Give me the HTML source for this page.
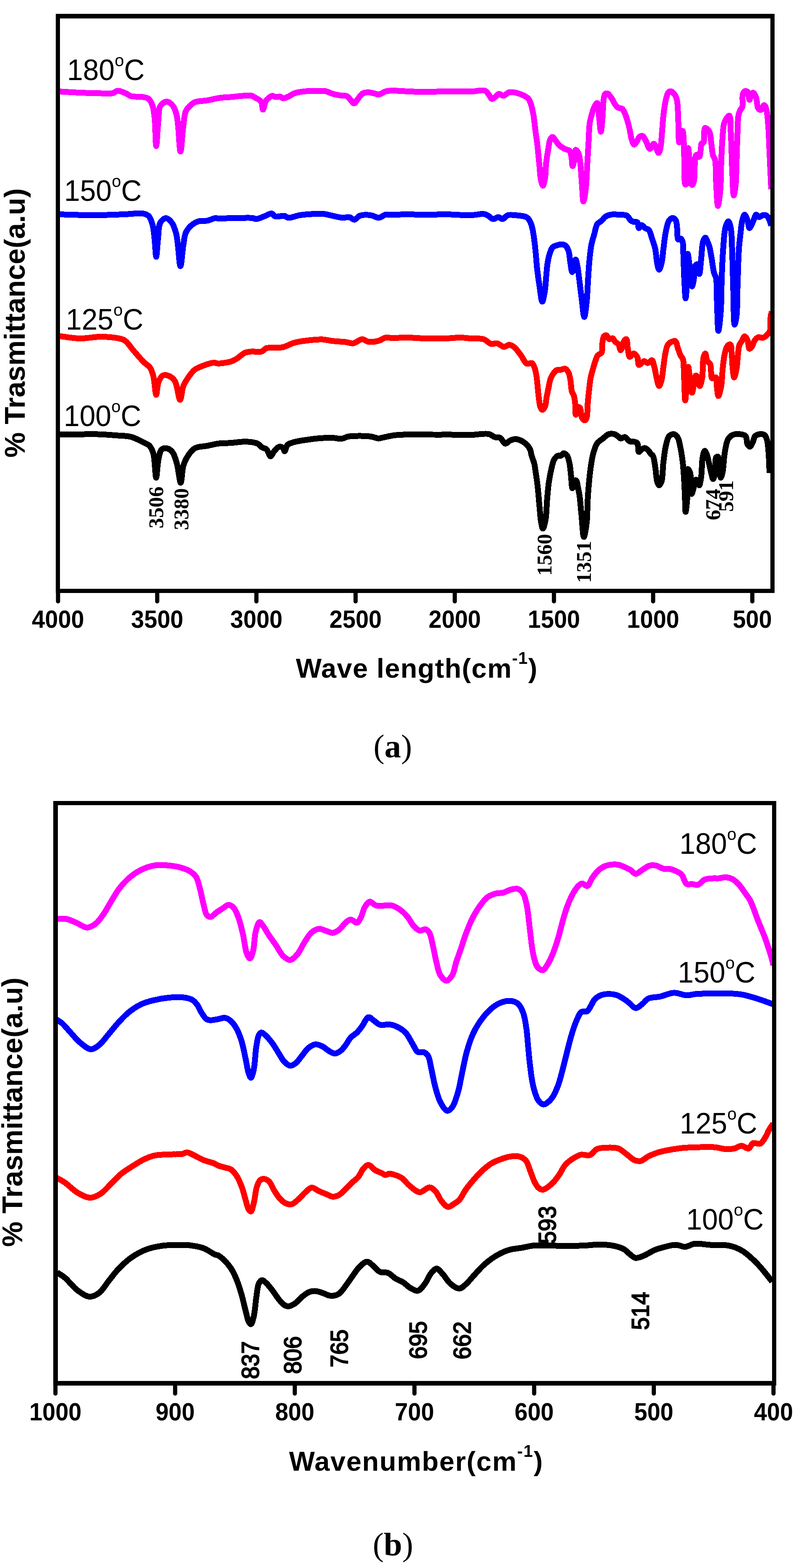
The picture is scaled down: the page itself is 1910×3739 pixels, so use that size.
<!DOCTYPE html>
<html><head><meta charset="utf-8"><title>FTIR spectra</title>
<style>html,body{margin:0;padding:0;background:#fff;}svg{display:block;}</style></head><body>
<svg width="1910" height="3739" viewBox="0 0 1910 3739">
<rect x="0" y="0" width="1910" height="3739" fill="#fff"/>
<g id="curves-a">
<path d="M137.6,218.0 C155.3,219.0 172.5,220.2 190.8,221.0 C210.4,221.8 237.3,222.6 251.6,222.6 C259.4,222.6 264.7,223.3 269.8,222.0 C274.0,220.9 276.3,216.9 280.5,216.5 C286.0,216.0 294.5,220.2 300.2,222.6 C304.9,224.6 307.2,227.7 312.4,229.2 C320.1,231.5 335.0,230.0 342.8,231.7 C347.8,232.8 351.6,233.3 354.9,236.2 C359.0,239.7 361.8,246.5 364.0,253.0 C366.7,260.8 367.3,269.1 368.6,280.3 C370.6,297.9 370.9,348.5 372.5,348.5 C374.0,348.5 375.8,303.9 377.7,286.4 C379.1,273.5 377.7,260.5 382.3,253.0 C385.7,247.4 392.4,242.3 397.5,242.3 C402.6,242.3 408.8,247.9 412.7,253.0 C417.3,259.0 419.3,266.5 421.8,277.3 C426.3,296.7 427.6,361.5 430.3,361.5 C432.6,361.5 434.6,319.1 437.0,301.6 C438.9,287.9 439.3,273.7 443.0,265.1 C445.4,259.6 448.6,256.6 452.2,253.0 C455.8,249.4 459.0,246.0 464.3,243.8 C471.9,240.6 484.6,241.1 494.7,239.3 C504.9,237.5 515.4,234.5 525.1,233.2 C533.9,232.0 541.6,232.1 550.4,231.4 C560.1,230.6 571.8,228.8 580.8,228.4 C588.1,228.0 595.1,227.0 600.5,228.4 C604.8,229.5 608.1,232.9 611.2,234.5 C613.5,235.7 615.4,236.1 617.3,237.5 C619.4,239.1 621.8,240.7 623.3,243.6 C625.5,247.8 625.3,261.4 627.0,261.5 C628.8,261.6 630.9,245.5 634.0,240.5 C636.2,237.0 638.9,235.1 641.6,233.0 C644.0,231.1 646.6,228.6 649.2,228.4 C651.7,228.2 653.9,231.0 656.8,231.4 C660.3,231.9 665.7,229.7 668.9,230.5 C671.4,231.1 672.5,234.2 675.0,234.5 C678.3,234.9 683.0,232.3 687.2,230.5 C692.1,228.4 696.6,224.4 702.4,222.3 C709.4,219.8 718.6,218.7 726.7,217.8 C734.8,216.9 742.9,217.2 751.0,217.1 C759.1,217.0 767.9,215.8 775.3,217.1 C781.9,218.3 787.4,222.1 793.6,223.8 C799.6,225.5 806.0,226.6 811.8,227.5 C817.1,228.3 822.9,227.3 827.0,229.3 C830.8,231.1 833.2,235.4 836.1,238.4 C838.8,241.2 841.1,246.6 843.7,246.6 C846.2,246.6 848.6,242.1 851.3,239.0 C855.0,234.9 858.9,226.9 863.5,223.8 C867.2,221.3 871.3,220.5 875.6,220.2 C880.3,219.8 886.0,221.4 890.8,222.3 C895.1,223.1 898.7,225.7 903.0,225.3 C908.3,224.8 914.5,219.3 920.0,217.8 C924.9,216.5 928.4,216.4 934.3,216.2 C943.7,215.9 958.0,217.3 970.8,217.8 C985.2,218.4 1001.2,219.3 1016.4,219.3 C1031.6,219.3 1045.7,218.0 1062.0,217.8 C1080.8,217.6 1105.6,218.9 1122.8,218.4 C1135.6,218.0 1148.9,213.5 1156.2,216.2 C1160.7,217.9 1162.5,222.0 1165.3,225.3 C1168.1,228.6 1169.9,235.4 1172.9,236.0 C1175.6,236.6 1179.2,232.6 1182.0,230.5 C1184.7,228.5 1186.7,224.3 1189.6,223.8 C1192.7,223.3 1196.6,228.6 1200.3,228.4 C1204.7,228.1 1209.1,221.4 1214.0,220.2 C1218.7,219.0 1224.4,220.0 1229.1,220.8 C1233.3,221.5 1237.1,223.1 1240.9,224.5 C1244.6,225.9 1248.4,227.4 1251.7,229.3 C1254.7,231.1 1257.7,232.7 1259.9,235.3 C1262.3,238.2 1263.8,242.3 1265.3,246.2 C1266.9,250.4 1268.0,255.0 1269.1,259.8 C1270.3,265.0 1271.4,270.3 1272.4,276.1 C1273.5,282.8 1274.2,290.6 1275.1,297.8 C1276.0,305.1 1276.9,312.5 1277.8,319.6 C1278.7,326.5 1279.7,331.6 1280.7,340.0 C1282.4,353.7 1284.6,377.9 1286.2,393.8 C1287.5,406.5 1287.7,419.0 1289.6,428.0 C1290.9,434.0 1293.0,442.8 1294.6,442.8 C1296.4,442.7 1298.6,430.8 1299.9,423.4 C1301.5,413.7 1301.0,400.2 1302.2,389.2 C1303.3,379.0 1305.1,369.0 1306.7,359.6 C1308.2,350.9 1308.8,340.4 1311.3,334.5 C1312.8,330.9 1314.8,326.6 1317.0,326.5 C1319.6,326.4 1323.3,333.4 1326.1,336.8 C1328.6,339.9 1330.0,343.1 1333.0,345.9 C1336.6,349.3 1342.1,352.6 1346.6,355.0 C1350.5,357.0 1355.3,356.8 1358.0,359.6 C1360.9,362.6 1361.4,368.0 1362.6,373.2 C1364.1,379.8 1363.9,395.9 1365.3,396.0 C1366.4,396.1 1368.3,387.7 1369.4,382.4 C1370.9,375.4 1370.3,358.0 1372.8,357.3 C1374.5,356.9 1377.9,362.3 1379.7,366.4 C1382.5,372.9 1383.0,383.5 1384.2,393.8 C1385.8,407.0 1386.4,424.5 1387.6,439.3 C1388.7,453.4 1389.4,480.3 1391.1,480.4 C1392.6,480.5 1395.4,462.2 1396.8,450.7 C1398.8,434.8 1399.1,412.8 1400.2,393.8 C1401.3,374.8 1402.6,354.3 1403.6,336.8 C1404.5,322.0 1404.4,307.0 1405.9,295.7 C1407.0,287.6 1408.5,282.0 1410.4,275.2 C1412.3,268.3 1414.5,260.0 1417.3,254.7 C1419.3,250.9 1422.3,245.1 1424.1,245.6 C1427.2,246.4 1427.2,268.4 1428.7,279.8 C1430.1,291.2 1431.5,314.0 1432.8,314.0 C1434.1,314.0 1435.7,291.6 1436.7,279.8 C1437.8,267.3 1437.5,251.1 1438.9,241.0 C1439.8,234.5 1440.0,227.9 1442.4,225.1 C1443.8,223.4 1446.1,222.3 1448.1,222.8 C1451.3,223.5 1455.2,229.9 1458.3,234.2 C1461.7,238.9 1464.3,246.0 1467.4,250.1 C1469.7,253.1 1471.6,255.5 1474.3,257.0 C1476.9,258.5 1480.9,257.4 1483.4,259.3 C1486.4,261.5 1488.1,266.2 1490.2,270.7 C1492.8,276.4 1495.2,284.5 1497.1,291.2 C1498.9,297.4 1500.2,303.0 1501.6,309.4 C1503.2,316.6 1504.1,325.8 1506.2,332.2 C1507.8,337.1 1509.6,344.4 1511.9,344.7 C1513.9,345.0 1516.7,339.7 1518.7,336.8 C1520.9,333.7 1521.8,328.6 1524.4,326.5 C1526.6,324.8 1530.0,323.3 1532.4,324.2 C1535.6,325.4 1537.8,332.1 1540.4,336.8 C1543.5,342.2 1546.1,354.6 1549.5,355.0 C1552.4,355.3 1556.4,342.8 1559.1,343.0 C1561.4,343.2 1562.9,349.7 1564.8,353.2 C1566.7,356.9 1568.8,364.7 1570.5,364.6 C1572.3,364.5 1573.9,356.6 1575.1,351.0 C1577.0,342.3 1577.4,328.7 1578.5,316.8 C1579.7,303.7 1580.4,288.5 1581.9,275.7 C1583.2,264.4 1584.4,253.5 1586.5,243.8 C1588.3,235.5 1590.2,225.0 1593.3,221.0 C1595.0,218.9 1597.0,217.5 1599.0,217.6 C1601.5,217.7 1604.7,220.6 1607.0,223.3 C1609.9,226.6 1612.1,230.9 1613.8,237.0 C1616.7,247.6 1616.4,267.4 1617.2,282.6 C1618.0,297.8 1617.8,318.1 1618.4,328.2 C1618.7,333.3 1618.6,339.5 1619.5,339.6 C1620.9,339.7 1625.6,312.0 1627.5,312.2 C1629.6,312.4 1630.1,333.3 1630.9,346.4 C1631.9,363.9 1631.3,390.8 1632.1,408.0 C1632.6,420.4 1631.7,438.9 1634.3,439.9 C1635.5,440.3 1637.7,438.2 1638.9,435.3 C1643.3,425.0 1639.9,353.3 1641.2,353.2 C1641.8,353.2 1642.7,366.1 1643.5,373.8 C1644.6,383.8 1645.8,396.7 1646.9,408.0 C1648.0,419.1 1648.2,440.7 1650.3,441.0 C1651.5,441.2 1653.8,435.5 1654.9,430.7 C1657.2,421.1 1655.6,396.4 1657.1,385.2 C1658.0,378.5 1658.2,370.1 1660.6,369.2 C1662.3,368.5 1665.7,374.5 1667.4,373.8 C1669.7,372.9 1669.8,363.1 1670.8,357.8 C1671.7,352.5 1671.1,344.6 1673.1,341.8 C1674.2,340.3 1676.4,341.3 1677.6,339.6 C1680.8,335.1 1677.6,307.5 1681.1,305.4 C1682.6,304.5 1685.1,306.3 1686.8,307.7 C1689.0,309.6 1691.1,312.9 1692.5,316.8 C1694.6,322.5 1694.7,331.4 1695.9,339.6 C1697.3,349.3 1698.1,364.2 1700.4,371.5 C1701.7,375.6 1703.8,376.2 1705.0,380.6 C1707.6,390.4 1706.2,413.2 1707.3,430.7 C1708.5,449.9 1709.8,491.0 1711.8,491.1 C1713.4,491.2 1716.2,467.9 1717.5,453.5 C1719.3,434.2 1718.9,405.7 1719.8,385.2 C1720.5,368.5 1721.0,354.8 1722.1,339.6 C1723.3,324.4 1723.8,304.0 1726.7,294.0 C1728.2,288.7 1730.1,285.8 1732.4,282.6 C1734.4,279.8 1737.5,275.1 1739.2,275.7 C1742.7,277.0 1741.6,300.4 1742.6,316.8 C1744.1,341.2 1744.7,381.0 1746.0,408.0 C1747.1,429.5 1747.6,465.9 1749.5,466.0 C1750.7,466.1 1752.9,451.8 1754.0,442.1 C1755.7,427.2 1755.6,405.0 1756.3,385.2 C1757.1,363.4 1757.7,336.7 1758.6,316.8 C1759.3,301.4 1758.9,285.6 1760.8,275.7 C1761.9,269.8 1763.6,265.8 1765.4,262.1 C1766.8,259.3 1768.9,258.5 1770.0,255.2 C1772.0,248.9 1769.2,232.2 1771.1,225.6 C1772.2,221.9 1773.6,218.6 1775.7,217.6 C1777.5,216.7 1780.7,217.1 1782.5,218.8 C1785.5,221.6 1785.4,238.0 1787.1,238.1 C1788.5,238.2 1789.7,228.6 1791.6,225.6 C1792.9,223.5 1794.6,220.8 1796.2,221.0 C1798.4,221.3 1801.2,227.7 1803.0,232.4 C1805.5,239.0 1804.5,252.7 1807.6,257.5 C1809.4,260.2 1812.2,262.5 1814.4,262.1 C1817.2,261.6 1820.2,250.5 1822.4,250.7 C1824.3,250.8 1825.7,255.7 1827.0,259.8 C1829.4,267.4 1830.3,280.6 1831.5,294.0 C1833.2,312.9 1833.7,338.1 1834.9,362.4 C1836.2,390.1 1837.6,421.7 1839.0,451.3" fill="none" stroke="#ff00ff" stroke-width="14.0" stroke-linejoin="round" stroke-linecap="butt" shape-rendering="crispEdges"/>
<path d="M137.6,511.0 C155.3,511.5 172.5,512.3 190.8,512.6 C210.4,512.9 232.8,512.9 251.6,512.6 C267.9,512.3 282.0,511.5 297.2,511.0 C312.4,510.5 332.6,507.3 342.8,509.5 C348.3,510.7 351.6,512.1 354.9,515.6 C359.2,520.2 361.8,528.8 364.0,536.9 C366.7,546.6 367.2,558.5 368.6,570.3 C370.1,583.5 371.1,612.2 372.5,612.2 C373.9,612.2 375.1,584.0 376.8,570.3 C378.4,556.9 377.4,539.3 382.3,530.8 C385.5,525.2 391.4,520.2 396.0,520.2 C400.5,520.2 405.8,525.8 409.6,530.8 C414.5,537.4 417.3,546.5 420.3,558.1 C425.2,577.0 427.3,634.7 430.3,634.7 C432.7,634.7 434.6,599.9 437.0,585.5 C438.9,574.1 439.4,563.4 443.0,555.1 C446.0,548.3 450.2,542.9 455.2,538.4 C460.3,533.8 466.9,529.8 473.5,527.8 C480.1,525.8 488.0,527.5 494.7,526.2 C501.1,524.9 508.3,520.7 513.0,520.2 C515.8,519.9 516.6,520.7 520.0,520.8 C528.6,521.1 551.2,520.0 565.6,519.9 C578.4,519.8 594.0,518.9 602.1,519.9 C606.2,520.4 607.7,522.4 611.2,522.3 C616.2,522.1 623.3,518.4 629.4,516.2 C635.5,514.0 642.8,508.5 647.7,509.2 C651.4,509.7 652.8,515.0 656.8,516.2 C662.2,517.8 672.6,513.6 678.1,514.7 C681.9,515.5 683.2,518.8 687.2,519.3 C693.8,520.1 704.9,514.7 714.5,513.2 C725.0,511.6 737.7,510.7 748.0,510.2 C756.7,509.8 764.5,509.4 772.3,510.2 C779.7,511.0 786.3,513.2 793.6,514.7 C801.4,516.3 810.7,519.0 817.9,519.3 C823.5,519.6 828.4,516.9 833.1,517.8 C837.5,518.6 841.3,524.2 845.2,523.8 C849.4,523.4 852.8,516.6 857.4,514.7 C862.0,512.8 867.5,512.4 872.6,512.3 C877.7,512.2 882.8,513.0 887.8,514.1 C892.9,515.3 897.8,519.5 903.0,519.3 C908.6,519.0 914.8,512.7 920.0,511.7 C924.1,510.9 926.4,512.2 931.3,512.3 C940.5,512.4 957.2,511.1 970.8,511.1 C985.5,511.1 1001.2,512.3 1016.4,512.3 C1031.6,512.3 1045.7,511.0 1062.0,511.1 C1080.8,511.2 1106.0,513.7 1122.8,513.2 C1134.7,512.8 1146.1,509.4 1153.2,510.2 C1157.2,510.6 1159.1,511.6 1162.3,513.2 C1166.5,515.3 1171.4,521.8 1176.0,522.3 C1180.0,522.8 1184.2,517.7 1188.1,517.8 C1191.8,517.9 1195.2,522.7 1198.8,522.3 C1202.9,521.8 1206.2,514.8 1210.9,513.2 C1216.1,511.5 1223.3,512.9 1229.1,513.2 C1234.5,513.5 1240.2,514.3 1244.6,515.0 C1247.9,515.5 1250.8,515.7 1253.3,516.8 C1255.5,517.8 1257.4,519.2 1259.1,520.9 C1260.9,522.8 1262.5,525.4 1263.8,527.9 C1265.2,530.6 1266.3,533.5 1267.3,536.6 C1268.5,540.2 1269.3,543.9 1270.2,548.2 C1271.3,553.4 1272.2,559.4 1273.1,565.7 C1274.1,572.9 1275.1,581.2 1276.0,589.0 C1276.9,596.8 1277.5,604.2 1278.3,612.3 C1279.1,621.1 1279.6,629.9 1280.7,640.0 C1282.1,652.3 1284.1,667.3 1286.2,680.6 C1288.3,693.7 1290.7,719.2 1293.1,719.3 C1294.9,719.4 1297.3,704.9 1298.8,696.5 C1300.6,686.3 1301.1,673.8 1302.2,662.4 C1303.3,651.0 1303.9,638.7 1305.6,628.2 C1307.1,619.1 1308.8,610.1 1311.3,603.1 C1313.2,597.7 1314.9,592.4 1318.1,589.4 C1320.8,586.8 1324.8,586.0 1328.4,584.9 C1332.0,583.8 1336.3,582.3 1339.8,582.6 C1343.0,582.9 1346.4,583.8 1348.9,586.0 C1351.9,588.6 1353.9,593.3 1355.7,598.5 C1358.3,606.1 1358.7,619.2 1360.3,628.2 C1361.6,635.7 1362.7,648.6 1364.4,648.7 C1365.8,648.8 1368.0,639.8 1369.4,635.0 C1370.9,629.9 1371.5,619.0 1372.8,619.0 C1374.2,619.0 1376.1,630.7 1377.4,637.3 C1378.9,645.0 1379.5,652.8 1380.8,662.4 C1382.5,675.3 1384.4,692.6 1386.5,708.0 C1388.6,723.8 1391.1,755.8 1393.3,755.8 C1395.2,755.8 1397.5,732.8 1399.0,719.3 C1400.8,702.5 1401.3,680.3 1402.5,662.4 C1403.6,646.4 1404.4,630.9 1405.9,616.8 C1407.2,604.6 1408.3,593.1 1410.4,582.6 C1412.2,573.5 1415.0,565.7 1417.3,557.5 C1419.5,549.7 1420.4,540.2 1424.1,534.7 C1427.0,530.4 1432.3,528.7 1435.5,525.6 C1438.2,523.0 1439.4,519.8 1442.4,517.6 C1445.9,515.0 1450.9,512.9 1456.0,511.9 C1462.0,510.7 1469.9,511.5 1476.5,511.9 C1482.8,512.3 1490.1,511.6 1494.8,514.2 C1499.0,516.5 1500.8,523.1 1503.9,525.6 C1506.1,527.4 1508.2,528.2 1510.7,529.0 C1513.5,529.8 1517.8,528.2 1519.9,530.1 C1522.5,532.4 1521.3,543.2 1523.3,543.8 C1525.0,544.3 1527.7,537.1 1530.1,537.0 C1532.6,536.9 1535.2,541.9 1538.1,543.8 C1540.9,545.7 1544.7,545.7 1547.2,548.4 C1550.6,552.2 1551.8,559.9 1554.1,566.6 C1556.9,574.8 1560.4,584.3 1562.5,594.0 C1564.8,604.7 1565.1,619.2 1567.1,628.2 C1568.4,634.2 1570.0,642.9 1571.7,643.0 C1573.4,643.1 1575.9,634.3 1577.4,628.2 C1579.7,619.3 1580.3,605.9 1581.9,594.0 C1583.7,580.9 1585.0,565.1 1587.6,552.9 C1589.8,542.8 1591.5,531.0 1595.6,525.6 C1598.1,522.3 1601.9,519.7 1604.7,519.9 C1607.2,520.1 1609.8,522.6 1611.5,525.6 C1614.2,530.4 1614.0,540.8 1615.0,548.4 C1615.9,556.0 1614.5,569.6 1617.2,571.2 C1618.6,572.0 1621.3,568.4 1622.9,568.9 C1624.8,569.5 1626.3,572.2 1627.5,575.7 C1630.1,583.4 1629.1,602.0 1629.8,616.8 C1630.6,634.2 1631.1,656.8 1632.1,673.8 C1632.9,687.6 1633.8,711.4 1634.8,711.4 C1636.0,711.4 1638.0,679.4 1638.9,662.4 C1639.8,644.1 1638.7,605.5 1640.0,605.4 C1640.8,605.3 1642.4,619.8 1643.5,628.2 C1644.8,638.4 1645.6,652.5 1646.9,662.4 C1647.9,670.1 1649.0,682.9 1650.3,682.9 C1651.6,682.9 1653.8,669.8 1654.9,662.4 C1656.2,654.0 1654.7,640.1 1657.1,635.0 C1658.2,632.5 1660.4,630.0 1661.7,630.4 C1664.3,631.1 1665.8,653.3 1667.4,653.2 C1669.4,653.1 1670.5,629.3 1672.0,616.8 C1673.6,603.5 1673.7,584.3 1676.5,575.7 C1677.9,571.4 1680.1,566.6 1681.8,566.6 C1683.5,566.6 1685.3,572.4 1686.8,575.7 C1688.5,579.2 1689.9,582.3 1691.3,587.1 C1693.5,594.6 1695.2,606.5 1697.0,616.8 C1699.0,627.8 1700.4,642.7 1702.7,651.0 C1704.1,655.9 1706.1,657.0 1707.3,662.4 C1709.8,674.0 1708.7,699.4 1709.6,719.3 C1710.6,741.3 1711.2,788.8 1713.0,788.9 C1714.5,789.0 1717.4,759.8 1718.7,742.1 C1720.4,719.1 1720.0,687.9 1721.0,662.4 C1721.9,638.7 1722.7,615.3 1724.4,594.0 C1725.9,575.3 1726.7,553.1 1730.1,541.5 C1731.9,535.3 1734.9,527.8 1736.9,527.9 C1739.1,528.0 1741.1,536.6 1742.6,543.8 C1745.4,557.5 1745.1,583.5 1746.0,605.4 C1747.0,630.3 1747.4,657.9 1748.3,685.2 C1749.3,714.0 1749.2,773.8 1751.7,774.0 C1752.9,774.1 1755.2,762.4 1756.3,753.5 C1758.4,737.5 1757.7,709.6 1758.6,685.2 C1759.6,657.0 1760.4,617.1 1762.0,594.0 C1763.0,579.8 1764.1,571.2 1765.4,559.8 C1766.7,548.4 1767.6,534.3 1770.0,525.6 C1771.5,519.9 1773.6,512.0 1775.7,511.9 C1777.8,511.8 1780.7,520.6 1782.5,525.6 C1784.5,531.1 1785.0,543.5 1787.1,543.8 C1788.7,544.0 1791.0,538.1 1792.8,534.7 C1794.9,530.7 1796.6,525.1 1798.5,521.0 C1800.0,517.6 1801.0,512.3 1803.0,511.9 C1804.9,511.5 1807.3,517.3 1809.9,517.6 C1812.6,517.9 1815.9,513.6 1819.0,513.1 C1822.0,512.6 1825.6,512.6 1828.1,514.2 C1831.1,516.2 1833.2,521.6 1835.0,525.6 C1836.8,529.6 1837.7,533.9 1839.0,538.1" fill="none" stroke="#0000ff" stroke-width="14.0" stroke-linejoin="round" stroke-linecap="butt" shape-rendering="crispEdges"/>
<path d="M137.6,801.0 C155.3,803.0 173.7,806.9 190.8,807.1 C206.6,807.3 221.7,803.4 236.4,803.2 C250.0,803.0 264.8,803.7 275.9,805.6 C284.2,807.0 290.7,807.5 297.2,811.7 C305.1,816.7 311.1,827.7 318.4,836.0 C326.2,844.9 335.4,855.9 342.8,863.3 C348.3,868.8 354.2,871.5 358.0,877.0 C361.9,882.6 363.5,888.7 365.6,896.8 C368.7,908.6 370.3,941.5 372.5,941.5 C374.3,941.5 374.5,920.2 377.7,912.0 C380.3,905.3 383.7,897.6 388.4,895.3 C392.6,893.3 399.0,894.8 403.6,896.8 C408.7,899.0 413.4,902.8 417.2,908.9 C423.2,918.6 425.9,953.7 429.4,953.6 C432.4,953.5 433.3,930.6 437.0,921.1 C440.2,913.0 444.5,906.4 449.1,899.8 C453.6,893.3 458.7,886.0 464.3,881.6 C469.0,877.9 473.4,876.4 479.5,874.0 C487.8,870.7 502.5,865.3 509.9,864.9 C514.1,864.7 515.7,866.6 520.0,866.7 C527.4,866.8 542.7,864.4 550.4,862.1 C555.5,860.6 558.1,859.2 562.6,856.6 C568.9,853.0 577.0,844.3 583.8,841.4 C589.0,839.1 593.3,839.0 599.0,838.4 C606.1,837.7 616.8,840.4 623.3,838.4 C628.3,836.9 630.6,831.8 635.5,830.2 C641.4,828.3 650.0,829.7 656.8,829.3 C663.1,828.9 668.4,829.3 675.0,827.8 C683.3,825.9 692.9,819.7 702.4,817.1 C712.1,814.4 722.2,813.2 732.8,811.9 C744.4,810.5 758.3,809.0 769.2,809.5 C778.2,809.9 785.0,812.2 793.6,813.2 C803.2,814.3 815.2,814.5 824.0,815.6 C830.9,816.4 836.0,819.4 842.2,818.6 C849.2,817.7 857.0,809.0 863.5,808.9 C869.0,808.8 872.9,814.2 878.7,815.0 C885.7,816.0 895.8,814.5 903.0,812.6 C909.3,810.9 914.5,806.0 920.0,805.0 C924.9,804.1 928.4,805.8 934.3,805.9 C943.7,806.1 958.0,804.9 970.8,805.0 C985.2,805.2 1001.2,806.8 1016.4,807.1 C1031.6,807.4 1047.7,807.5 1062.0,807.1 C1074.8,806.7 1087.5,804.8 1098.4,805.0 C1107.3,805.1 1114.2,806.5 1122.8,807.1 C1132.4,807.8 1144.6,806.2 1153.2,808.9 C1160.4,811.2 1165.5,818.9 1171.4,820.2 C1176.1,821.2 1180.4,817.8 1185.1,818.6 C1190.5,819.6 1196.6,826.9 1201.8,827.1 C1206.1,827.3 1210.0,822.2 1214.0,822.3 C1218.1,822.4 1222.2,824.8 1226.1,827.8 C1231.3,831.8 1236.4,839.6 1241.3,846.0 C1246.5,852.7 1251.0,864.9 1256.5,867.3 C1260.2,868.9 1265.0,864.3 1268.0,865.7 C1271.2,867.2 1273.0,872.6 1274.8,877.1 C1277.1,882.8 1278.1,889.5 1279.4,897.7 C1281.3,909.4 1282.2,928.0 1283.9,941.0 C1285.3,951.8 1286.1,964.4 1288.5,970.6 C1289.8,973.9 1291.4,977.4 1293.1,977.4 C1295.1,977.4 1298.2,972.2 1299.9,968.3 C1302.1,963.0 1302.0,954.8 1303.3,947.8 C1304.7,940.4 1306.3,932.4 1307.9,925.0 C1309.4,918.0 1310.3,910.5 1312.4,904.5 C1314.2,899.3 1316.6,894.6 1319.3,890.8 C1321.6,887.6 1324.1,884.3 1327.2,882.8 C1330.2,881.4 1334.1,882.3 1337.5,881.7 C1340.9,881.1 1344.8,878.4 1347.8,879.4 C1351.0,880.4 1353.7,884.6 1355.7,888.5 C1358.2,893.3 1359.0,900.0 1360.3,906.8 C1361.8,915.0 1361.7,927.6 1363.7,934.1 C1364.9,938.1 1367.1,939.4 1368.3,943.2 C1370.1,948.6 1370.9,956.6 1371.7,963.8 C1372.5,971.7 1371.5,988.6 1372.8,988.8 C1374.0,989.0 1375.9,971.7 1378.5,970.6 C1379.8,970.0 1381.8,971.2 1383.1,972.9 C1385.8,976.4 1384.8,990.6 1387.6,995.7 C1389.4,999.0 1392.5,1002.7 1394.5,1002.5 C1396.3,1002.3 1397.9,999.0 1399.0,995.7 C1401.2,989.1 1400.4,974.6 1401.3,963.8 C1402.3,952.6 1403.5,940.4 1404.7,929.6 C1405.8,920.0 1406.7,910.4 1408.2,902.2 C1409.5,895.5 1410.9,890.4 1412.7,884.0 C1414.7,876.8 1417.2,867.8 1419.6,861.2 C1421.5,856.0 1422.6,851.0 1425.3,847.5 C1427.7,844.4 1432.4,844.3 1434.4,840.7 C1437.4,835.3 1435.5,822.7 1436.7,815.6 C1437.6,810.3 1437.9,804.4 1440.1,801.9 C1441.5,800.2 1444.0,799.1 1445.8,799.6 C1448.3,800.3 1449.9,807.9 1452.6,808.8 C1454.9,809.6 1458.3,805.7 1460.6,806.5 C1463.3,807.4 1464.9,813.3 1467.4,815.6 C1469.5,817.6 1472.4,817.7 1474.3,820.1 C1477.0,823.4 1478.2,835.0 1480.0,835.0 C1481.5,835.0 1483.2,828.3 1484.5,824.7 C1485.9,821.0 1486.1,816.0 1488.0,813.3 C1489.4,811.2 1492.2,808.2 1493.6,808.8 C1496.2,809.8 1495.7,824.3 1497.1,831.5 C1498.4,838.2 1498.8,850.0 1501.6,850.9 C1503.8,851.6 1507.7,842.8 1510.7,842.9 C1513.8,843.0 1517.8,848.1 1519.9,852.1 C1522.4,856.9 1520.8,869.3 1523.3,870.3 C1525.0,871.0 1528.0,867.3 1530.1,865.7 C1532.1,864.2 1533.6,861.4 1535.8,861.2 C1538.4,860.9 1541.9,865.9 1544.9,865.7 C1548.2,865.5 1552.1,858.2 1554.6,859.0 C1557.6,860.0 1558.6,868.9 1560.3,875.0 C1562.5,882.8 1563.9,894.2 1566.0,902.4 C1567.8,909.1 1569.7,920.5 1571.7,920.6 C1573.5,920.7 1575.9,912.5 1577.4,906.9 C1579.7,898.6 1580.4,885.6 1581.9,875.0 C1583.4,864.4 1584.5,852.5 1586.5,843.1 C1588.1,835.5 1589.2,827.3 1592.2,822.6 C1594.3,819.3 1597.1,817.2 1600.1,815.7 C1603.1,814.2 1607.8,812.1 1610.4,813.5 C1613.7,815.3 1614.1,823.9 1616.1,829.4 C1618.3,835.3 1620.5,842.8 1622.9,847.7 C1624.7,851.4 1627.2,852.6 1628.6,856.8 C1631.1,864.4 1630.1,877.8 1630.9,891.0 C1631.9,909.0 1632.6,954.8 1633.9,954.8 C1635.0,954.8 1636.6,927.3 1637.8,913.8 C1639.0,900.7 1639.9,875.0 1641.2,875.0 C1642.2,875.0 1643.3,889.2 1644.6,897.8 C1646.3,909.0 1648.3,936.5 1650.3,936.5 C1652.1,936.5 1654.2,914.4 1656.0,906.9 C1657.2,902.2 1657.7,895.9 1659.4,895.5 C1660.6,895.2 1662.7,897.8 1664.0,900.1 C1666.3,904.3 1666.7,920.5 1668.5,920.6 C1670.2,920.7 1672.8,910.1 1674.2,902.4 C1676.5,889.9 1675.1,862.1 1677.6,852.2 C1678.7,847.8 1680.5,843.0 1681.8,843.1 C1683.6,843.2 1684.3,856.9 1686.8,861.3 C1688.6,864.5 1691.8,864.6 1693.6,868.2 C1696.9,875.0 1693.9,899.5 1698.2,902.4 C1700.5,903.9 1705.2,898.6 1707.3,900.1 C1710.7,902.5 1708.6,917.4 1709.6,925.2 C1710.5,932.1 1711.5,944.4 1713.0,944.5 C1714.7,944.6 1718.1,929.7 1719.8,920.6 C1721.9,908.9 1721.8,892.6 1723.2,879.6 C1724.5,867.7 1725.5,855.3 1727.8,845.4 C1729.6,837.6 1731.3,828.7 1734.6,824.9 C1736.5,822.6 1739.8,820.5 1741.5,821.4 C1744.5,823.0 1744.0,836.7 1744.9,845.4 C1746.0,855.8 1746.0,869.7 1747.2,879.6 C1748.1,887.3 1749.1,900.0 1750.6,900.1 C1752.1,900.2 1754.8,887.4 1756.3,879.6 C1758.2,869.7 1758.4,855.6 1759.7,845.4 C1760.7,837.0 1761.0,828.3 1763.1,822.6 C1764.5,818.7 1766.8,816.7 1768.8,813.5 C1771.0,809.9 1773.3,802.2 1775.7,802.1 C1777.9,802.0 1780.7,807.3 1782.5,811.2 C1784.9,816.5 1784.5,830.8 1787.1,831.7 C1788.6,832.2 1791.1,829.3 1792.8,827.1 C1795.2,823.9 1795.9,817.4 1798.5,813.5 C1800.9,809.9 1804.0,805.6 1807.6,804.3 C1810.9,803.1 1815.5,806.3 1819.0,805.5 C1822.4,804.7 1825.4,802.4 1828.1,799.8 C1831.2,796.9 1834.3,793.6 1836.1,788.4 C1838.9,780.3 1836.5,762.5 1837.7,754.2 C1838.4,749.3 1839.6,746.6 1840.6,742.8" fill="none" stroke="#ff0000" stroke-width="14.0" stroke-linejoin="round" stroke-linecap="butt" shape-rendering="crispEdges"/>
<path d="M142.2,1036.2 C158.4,1036.0 174.9,1035.7 190.8,1035.6 C206.2,1035.5 221.2,1035.1 236.4,1035.6 C251.6,1036.1 268.3,1037.5 282.0,1038.6 C293.2,1039.5 302.5,1039.0 312.4,1041.7 C322.8,1044.5 334.8,1051.2 342.8,1055.3 C348.3,1058.1 352.7,1059.2 356.4,1063.0 C360.6,1067.4 363.2,1073.2 365.6,1081.2 C369.7,1094.8 370.1,1138.9 372.3,1138.9 C374.2,1138.9 375.1,1108.5 377.7,1096.4 C379.7,1087.1 380.9,1076.3 385.3,1072.1 C388.4,1069.1 393.5,1068.3 397.5,1069.0 C402.1,1069.8 407.5,1073.4 411.2,1078.1 C416.2,1084.3 418.8,1095.1 421.8,1105.5 C425.6,1118.6 428.3,1151.2 430.9,1151.1 C433.3,1151.0 433.9,1122.6 437.0,1111.6 C439.4,1103.2 441.9,1097.1 446.1,1090.3 C450.7,1082.8 456.5,1073.6 464.3,1069.0 C472.5,1064.2 485.0,1064.9 494.7,1063.0 C503.5,1061.2 511.1,1058.9 520.0,1057.8 C529.6,1056.6 539.8,1056.9 550.4,1056.2 C562.0,1055.4 575.6,1052.7 586.9,1053.2 C596.7,1053.6 607.5,1054.7 614.2,1057.8 C619.0,1060.0 621.2,1064.6 624.9,1066.9 C628.3,1069.0 632.4,1068.7 635.5,1071.4 C639.5,1074.9 642.0,1088.0 645.2,1088.1 C648.0,1088.2 650.4,1079.7 653.7,1076.0 C657.2,1072.1 661.9,1066.1 665.9,1065.3 C669.0,1064.7 672.9,1066.5 675.0,1068.4 C677.0,1070.2 677.3,1076.0 678.7,1076.0 C680.7,1076.0 682.1,1064.4 685.7,1060.8 C689.1,1057.4 693.6,1056.5 699.3,1054.7 C707.9,1052.0 721.9,1050.2 732.8,1048.6 C743.2,1047.0 753.1,1045.7 763.2,1045.0 C773.3,1044.3 784.4,1043.8 793.6,1044.1 C801.3,1044.4 808.4,1046.9 814.8,1046.2 C820.4,1045.6 824.3,1042.1 830.0,1041.0 C837.1,1039.6 845.7,1039.6 854.3,1039.5 C863.9,1039.4 875.9,1039.7 884.7,1041.0 C891.6,1042.0 898.3,1045.5 903.0,1045.6 C905.9,1045.7 906.8,1044.8 910.0,1044.1 C916.6,1042.7 929.2,1039.4 940.4,1038.0 C954.0,1036.3 970.8,1036.1 986.0,1035.9 C1001.2,1035.7 1016.4,1036.4 1031.6,1036.5 C1046.8,1036.6 1062.0,1036.4 1077.2,1036.5 C1092.4,1036.6 1107.9,1037.4 1122.8,1037.1 C1137.2,1036.8 1154.9,1032.8 1165.3,1035.0 C1171.9,1036.4 1175.6,1041.1 1180.5,1042.6 C1184.7,1043.9 1189.0,1042.1 1192.7,1044.1 C1197.2,1046.5 1200.5,1057.2 1204.8,1057.8 C1208.6,1058.4 1212.8,1052.0 1217.0,1050.2 C1220.9,1048.5 1225.1,1047.1 1229.1,1047.1 C1233.0,1047.1 1236.9,1048.3 1240.6,1049.8 C1244.4,1051.3 1248.1,1053.7 1251.3,1056.2 C1254.3,1058.5 1257.1,1061.2 1259.3,1064.1 C1261.5,1066.9 1263.2,1069.8 1264.6,1073.2 C1266.2,1077.1 1266.3,1081.8 1267.7,1086.6 C1269.3,1092.3 1272.4,1098.9 1274.0,1105.2 C1275.5,1111.4 1276.0,1117.7 1277.0,1123.9 C1278.0,1130.1 1278.9,1136.3 1279.8,1142.5 C1280.7,1148.7 1281.5,1155.0 1282.2,1161.2 C1282.9,1167.4 1283.4,1173.6 1284.0,1179.8 C1284.6,1186.0 1285.1,1192.2 1285.6,1198.4 C1286.2,1204.6 1286.7,1210.6 1287.3,1217.1 C1288.0,1224.3 1288.3,1232.6 1289.5,1240.0 C1290.7,1247.1 1292.6,1260.4 1294.5,1260.5 C1296.4,1260.6 1299.4,1247.8 1301.0,1239.3 C1303.3,1227.1 1303.1,1209.0 1304.4,1193.8 C1305.7,1178.6 1307.0,1161.7 1309.0,1148.2 C1310.6,1137.2 1312.5,1127.7 1314.7,1118.5 C1316.7,1110.3 1318.1,1101.3 1321.5,1095.7 C1324.0,1091.6 1327.6,1087.9 1330.7,1086.6 C1332.9,1085.7 1335.4,1087.4 1337.5,1086.6 C1339.9,1085.7 1341.9,1081.0 1344.3,1080.9 C1346.8,1080.8 1350.2,1083.7 1352.3,1086.6 C1355.3,1090.7 1356.5,1098.1 1358.0,1104.9 C1359.8,1113.0 1360.3,1122.7 1361.4,1132.2 C1362.6,1142.4 1363.0,1163.9 1364.9,1164.1 C1366.4,1164.2 1368.1,1147.7 1370.6,1145.9 C1371.6,1145.1 1373.0,1145.1 1374.0,1145.9 C1376.3,1147.7 1377.2,1158.0 1378.5,1164.1 C1379.8,1170.2 1380.9,1174.9 1382.0,1182.4 C1383.7,1194.1 1384.9,1212.2 1386.5,1227.9 C1388.3,1244.8 1389.8,1280.3 1392.2,1280.4 C1394.1,1280.5 1397.5,1258.9 1399.0,1246.2 C1400.9,1230.7 1400.3,1210.7 1401.3,1193.8 C1402.2,1178.1 1403.3,1162.8 1404.7,1148.2 C1406.0,1134.7 1407.4,1121.4 1409.3,1109.4 C1410.9,1098.8 1412.3,1088.9 1415.0,1079.8 C1417.4,1071.6 1419.8,1062.9 1424.1,1057.0 C1427.8,1052.0 1433.2,1049.2 1437.8,1045.6 C1442.3,1042.0 1446.6,1036.9 1451.5,1035.3 C1455.8,1033.9 1461.2,1034.2 1465.2,1035.3 C1468.7,1036.3 1471.7,1039.1 1474.3,1041.0 C1476.5,1042.5 1477.7,1045.2 1480.0,1045.6 C1482.8,1046.1 1486.9,1041.5 1490.2,1042.2 C1494.1,1043.0 1497.5,1050.6 1501.6,1052.4 C1505.2,1054.0 1509.7,1052.7 1513.0,1053.6 C1515.7,1054.4 1518.2,1054.7 1519.9,1057.0 C1522.7,1060.7 1520.6,1076.5 1523.3,1077.5 C1525.2,1078.2 1528.7,1072.3 1531.3,1070.7 C1533.3,1069.5 1535.0,1068.3 1537.0,1068.4 C1539.5,1068.6 1542.5,1070.8 1544.9,1072.9 C1547.6,1075.2 1549.6,1079.7 1551.8,1082.1 C1553.5,1084.0 1555.4,1084.1 1556.8,1086.6 C1559.7,1091.7 1560.8,1104.3 1562.5,1114.0 C1564.3,1124.7 1564.7,1140.6 1567.1,1148.2 C1568.4,1152.3 1570.0,1157.2 1571.7,1157.3 C1573.4,1157.4 1575.9,1152.6 1577.4,1148.2 C1580.5,1139.0 1580.1,1117.2 1581.9,1102.6 C1583.6,1089.1 1584.9,1075.1 1587.6,1063.8 C1589.8,1054.8 1591.3,1044.5 1595.6,1039.9 C1598.6,1036.7 1603.6,1034.7 1607.0,1035.3 C1610.4,1035.9 1613.8,1039.6 1616.1,1043.3 C1619.2,1048.3 1620.1,1056.0 1621.8,1063.8 C1624.0,1073.7 1626.0,1086.2 1627.5,1098.0 C1629.1,1110.5 1630.0,1123.3 1630.9,1136.8 C1631.9,1151.4 1632.5,1167.9 1633.2,1182.4 C1633.8,1195.7 1633.8,1220.6 1634.8,1220.6 C1635.7,1220.6 1638.0,1200.1 1638.9,1186.9 C1640.2,1168.1 1636.5,1119.5 1640.0,1118.5 C1641.4,1118.1 1644.2,1123.1 1645.7,1127.6 C1648.9,1137.4 1646.8,1177.5 1649.2,1177.8 C1650.6,1178.0 1653.2,1165.5 1654.9,1159.6 C1656.5,1154.1 1657.3,1144.1 1659.4,1143.6 C1660.7,1143.3 1662.7,1146.2 1664.0,1148.2 C1665.5,1150.6 1666.3,1157.4 1667.4,1157.3 C1669.0,1157.2 1670.8,1145.0 1672.0,1136.8 C1673.8,1124.7 1673.3,1102.4 1675.4,1091.2 C1676.7,1084.4 1678.4,1075.4 1680.4,1075.2 C1681.9,1075.0 1684.1,1080.6 1685.6,1084.3 C1687.6,1089.2 1688.6,1096.0 1690.2,1102.6 C1692.0,1110.3 1694.0,1120.4 1695.9,1127.6 C1697.4,1133.2 1698.9,1142.5 1700.4,1142.5 C1702.0,1142.5 1703.9,1132.1 1705.0,1125.4 C1706.6,1116.0 1704.3,1095.8 1707.3,1091.2 C1708.5,1089.4 1710.7,1088.3 1711.8,1088.9 C1714.1,1090.1 1713.1,1102.0 1714.1,1109.4 C1715.3,1118.4 1716.8,1138.8 1718.7,1139.0 C1720.0,1139.1 1722.0,1131.0 1723.2,1125.4 C1725.1,1116.7 1725.4,1101.4 1726.7,1091.2 C1727.8,1082.8 1728.5,1075.8 1730.1,1068.4 C1731.6,1061.3 1732.7,1053.3 1735.8,1047.9 C1738.4,1043.5 1741.7,1039.7 1746.0,1037.6 C1750.9,1035.2 1758.7,1034.7 1764.3,1035.3 C1769.2,1035.8 1774.9,1036.6 1777.9,1039.9 C1781.5,1043.8 1780.1,1055.0 1782.5,1059.3 C1784.0,1062.1 1786.3,1065.2 1788.2,1065.0 C1790.5,1064.8 1793.0,1058.6 1795.0,1054.7 C1797.3,1050.3 1797.5,1043.1 1800.7,1039.9 C1803.5,1037.1 1808.2,1035.7 1812.1,1035.3 C1815.8,1035.0 1820.7,1035.4 1823.5,1037.6 C1826.6,1040.0 1827.7,1044.9 1829.2,1050.1 C1831.3,1057.8 1831.8,1068.7 1832.7,1079.8 C1833.9,1093.8 1834.2,1111.7 1835.0,1127.6" fill="none" stroke="#000000" stroke-width="14.0" stroke-linejoin="round" stroke-linecap="butt" shape-rendering="crispEdges"/>
</g>
<g id="curves-b">
<path d="M133.0,2191.1 C141.1,2191.1 149.4,2189.7 157.4,2191.1 C165.6,2192.6 173.5,2196.8 181.7,2200.2 C190.2,2203.7 199.5,2211.7 207.5,2211.8 C214.5,2211.9 221.3,2207.7 227.3,2203.3 C234.1,2198.3 239.7,2190.0 245.5,2182.0 C252.0,2173.0 257.3,2161.9 263.7,2151.6 C270.5,2140.7 277.1,2128.2 285.0,2118.1 C292.4,2108.6 300.5,2099.7 309.3,2092.3 C317.8,2085.1 326.8,2078.9 336.7,2074.1 C347.0,2069.2 359.4,2065.1 370.1,2063.4 C379.6,2061.9 388.2,2062.7 397.5,2063.4 C407.4,2064.1 418.5,2065.5 427.9,2068.0 C436.6,2070.3 445.4,2072.9 452.2,2077.1 C458.3,2080.8 463.5,2084.8 467.4,2090.8 C472.0,2097.9 473.7,2108.1 476.5,2118.1 C479.8,2130.0 482.5,2146.2 485.6,2157.7 C488.1,2166.8 489.3,2177.4 493.2,2182.0 C495.7,2184.9 499.1,2186.8 502.3,2186.5 C506.5,2186.1 511.2,2179.3 516.0,2175.9 C521.1,2172.3 527.2,2168.5 532.2,2165.3 C536.5,2162.6 540.2,2158.0 544.3,2157.8 C548.3,2157.6 552.9,2160.3 556.5,2163.8 C561.5,2168.8 565.1,2178.8 568.6,2188.1 C572.9,2199.5 576.1,2214.0 579.3,2227.7 C582.7,2242.3 584.4,2263.2 588.4,2273.3 C590.6,2278.9 593.6,2285.6 596.0,2285.4 C598.8,2285.2 601.5,2274.8 603.6,2267.2 C606.7,2255.6 606.4,2234.0 609.7,2221.6 C612.1,2212.5 615.3,2199.5 618.8,2198.8 C621.1,2198.3 623.7,2202.9 626.4,2206.4 C630.9,2212.0 636.4,2222.9 641.6,2230.7 C646.6,2238.1 651.6,2244.4 656.8,2252.0 C662.7,2260.5 668.3,2272.9 675.0,2279.3 C680.2,2284.2 686.2,2289.4 691.7,2289.1 C697.4,2288.7 703.2,2282.1 708.4,2276.3 C715.1,2268.8 720.7,2255.0 726.7,2245.9 C731.8,2238.1 735.9,2229.9 741.9,2224.6 C747.2,2219.9 753.9,2215.6 760.1,2214.9 C766.1,2214.3 772.6,2218.4 778.4,2220.1 C783.7,2221.6 788.6,2225.0 793.6,2224.6 C798.8,2224.1 804.1,2220.6 808.8,2217.0 C814.3,2212.9 818.8,2204.5 823.9,2200.3 C827.9,2196.9 831.7,2192.9 836.1,2192.7 C840.8,2192.5 847.2,2201.3 851.3,2200.3 C855.2,2199.4 857.7,2193.1 860.4,2188.1 C864.0,2181.6 865.5,2170.4 869.5,2163.8 C872.9,2158.2 877.1,2150.9 881.7,2150.2 C886.2,2149.5 891.1,2157.7 896.9,2159.3 C903.6,2161.1 913.2,2159.3 920.0,2159.3 C925.3,2159.3 929.4,2158.1 934.3,2159.3 C940.2,2160.7 946.8,2164.4 952.6,2168.4 C959.0,2172.8 965.2,2178.7 970.8,2185.1 C976.9,2192.1 981.7,2203.5 987.5,2209.4 C991.9,2213.9 996.4,2218.1 1001.2,2219.1 C1005.6,2220.0 1011.0,2215.0 1014.9,2216.1 C1018.5,2217.1 1021.5,2220.5 1024.0,2224.6 C1027.8,2230.8 1029.1,2241.8 1031.6,2252.0 C1034.7,2264.6 1037.4,2281.6 1040.7,2294.5 C1043.5,2305.5 1044.9,2317.2 1049.8,2324.9 C1053.7,2331.1 1060.1,2338.7 1065.0,2338.6 C1069.7,2338.5 1075.1,2330.9 1078.7,2324.9 C1083.3,2317.2 1084.5,2304.6 1087.8,2294.5 C1091.1,2284.3 1094.8,2274.7 1098.4,2264.1 C1102.4,2252.5 1106.1,2239.8 1110.6,2227.7 C1115.2,2215.5 1120.0,2202.6 1125.8,2191.2 C1131.2,2180.4 1137.5,2169.8 1144.0,2160.8 C1149.8,2152.8 1155.3,2144.6 1162.3,2139.5 C1168.6,2134.8 1176.9,2132.1 1183.5,2130.4 C1188.9,2129.0 1193.4,2130.2 1198.8,2128.9 C1205.4,2127.3 1213.4,2122.1 1220.0,2120.7 C1225.4,2119.5 1230.7,2118.3 1235.2,2119.8 C1239.9,2121.4 1244.1,2125.3 1247.4,2130.4 C1252.0,2137.5 1254.0,2148.8 1256.5,2160.8 C1260.0,2177.5 1261.5,2201.9 1264.1,2221.6 C1266.6,2240.3 1268.0,2260.9 1271.7,2276.3 C1274.5,2288.1 1277.2,2300.6 1282.3,2306.7 C1285.7,2310.7 1291.0,2314.1 1294.5,2313.5 C1297.8,2312.9 1300.2,2308.1 1303.0,2304.0 C1307.0,2298.2 1311.2,2290.3 1315.2,2281.4 C1320.5,2269.6 1325.9,2253.3 1330.4,2238.8 C1335.0,2224.0 1338.5,2207.3 1342.6,2193.3 C1346.1,2181.2 1349.2,2170.3 1353.2,2159.8 C1356.9,2150.1 1360.9,2140.5 1365.3,2132.5 C1369.1,2125.6 1373.1,2118.7 1377.5,2114.2 C1380.9,2110.7 1384.3,2106.9 1388.1,2106.6 C1391.9,2106.3 1396.6,2113.7 1400.3,2112.7 C1405.1,2111.3 1408.0,2099.3 1412.5,2093.0 C1417.1,2086.6 1421.9,2079.6 1427.7,2074.7 C1433.1,2070.1 1438.9,2066.3 1445.9,2064.1 C1453.9,2061.6 1465.2,2060.8 1473.3,2061.9 C1480.1,2062.8 1486.1,2066.3 1491.5,2068.6 C1496.0,2070.6 1499.7,2072.3 1503.6,2074.7 C1507.8,2077.3 1511.4,2083.6 1515.8,2083.8 C1520.5,2084.0 1525.7,2077.8 1531.0,2074.7 C1536.8,2071.3 1543.2,2065.7 1549.2,2064.1 C1554.3,2062.7 1559.2,2063.1 1564.4,2064.1 C1570.3,2065.3 1576.8,2070.4 1582.7,2071.7 C1587.9,2072.8 1592.9,2071.3 1597.9,2072.3 C1603.0,2073.3 1608.4,2075.5 1613.1,2077.8 C1617.5,2079.9 1621.6,2081.5 1625.2,2085.3 C1630.1,2090.5 1632.2,2105.0 1637.4,2108.1 C1640.9,2110.2 1645.2,2107.9 1649.5,2108.1 C1654.3,2108.4 1659.9,2111.1 1664.7,2109.7 C1670.1,2108.1 1674.2,2100.0 1680.0,2097.5 C1685.9,2094.9 1694.0,2094.9 1700.0,2094.5 C1704.8,2094.1 1708.5,2094.8 1713.1,2094.5 C1718.3,2094.1 1724.1,2091.8 1729.6,2092.0 C1735.1,2092.2 1740.9,2093.3 1746.1,2096.0 C1752.0,2099.0 1757.7,2104.8 1762.5,2110.0 C1767.3,2115.1 1770.8,2121.0 1775.0,2127.0 C1779.6,2133.5 1784.4,2139.0 1788.9,2147.5 C1795.2,2159.4 1800.7,2177.9 1806.7,2193.2 C1812.8,2208.7 1819.8,2224.2 1825.4,2239.8 C1831.0,2255.2 1837.2,2274.9 1840.4,2286.3 C1842.2,2292.9 1842.8,2296.8 1844.0,2302.0" fill="none" stroke="#ff00ff" stroke-width="14.0" stroke-linejoin="round" stroke-linecap="butt" shape-rendering="crispEdges"/>
<path d="M133.0,2429.7 C138.1,2433.2 143.1,2435.9 148.2,2440.3 C154.3,2445.6 160.0,2453.1 166.5,2460.1 C174.0,2468.1 182.1,2478.8 190.8,2485.9 C198.9,2492.5 208.5,2501.6 216.6,2502.0 C223.5,2502.3 230.1,2496.9 236.4,2492.0 C244.0,2486.1 250.4,2476.2 257.7,2467.7 C265.6,2458.5 273.7,2447.8 282.0,2438.8 C289.9,2430.2 297.3,2421.8 306.3,2414.5 C315.5,2407.0 326.2,2399.7 336.7,2394.7 C346.5,2390.0 356.4,2387.6 367.1,2385.0 C378.6,2382.2 392.0,2380.0 403.6,2378.9 C414.2,2377.9 424.5,2377.0 434.0,2378.0 C442.6,2378.9 452.0,2380.5 458.3,2384.1 C463.5,2387.1 466.9,2391.6 470.4,2396.2 C474.1,2401.1 476.0,2407.5 479.5,2413.0 C483.1,2418.7 487.4,2426.6 491.7,2429.7 C494.6,2431.8 497.2,2432.4 500.8,2432.7 C506.0,2433.2 513.8,2431.2 520.0,2430.2 C525.8,2429.3 531.5,2426.3 536.7,2427.1 C541.6,2427.9 546.2,2431.0 550.4,2434.7 C555.5,2439.1 560.1,2445.7 564.1,2452.9 C568.9,2461.5 572.8,2472.4 576.2,2483.3 C580.0,2495.5 582.4,2510.0 585.3,2522.9 C588.0,2535.3 590.0,2550.9 593.0,2559.3 C594.7,2564.1 596.6,2570.1 598.4,2570.0 C600.7,2569.8 603.2,2558.6 605.1,2550.2 C608.1,2536.6 608.7,2510.6 611.2,2495.5 C613.0,2484.7 614.2,2473.7 617.3,2468.1 C619.0,2465.0 620.9,2462.3 623.3,2462.1 C626.6,2461.9 631.4,2467.4 635.5,2471.2 C640.6,2476.0 645.9,2482.7 650.7,2489.4 C656.0,2496.8 661.1,2506.2 665.9,2513.7 C670.1,2520.3 673.4,2527.3 678.1,2532.0 C682.2,2536.1 687.0,2540.7 691.7,2541.1 C696.2,2541.5 701.1,2538.3 705.4,2535.0 C710.8,2530.9 715.5,2522.9 720.6,2516.8 C725.7,2510.7 730.1,2503.0 735.8,2498.5 C740.9,2494.5 746.8,2490.7 752.5,2490.3 C758.0,2489.9 764.0,2492.9 769.2,2495.5 C774.6,2498.1 779.3,2503.2 784.4,2506.1 C789.0,2508.7 793.5,2512.2 798.1,2512.2 C802.7,2512.2 807.7,2509.1 811.8,2506.1 C816.4,2502.8 820.1,2497.5 824.0,2492.5 C828.3,2487.0 831.4,2479.4 836.1,2474.2 C840.6,2469.3 846.7,2466.6 851.3,2462.1 C855.9,2457.5 859.3,2452.5 863.5,2446.9 C868.4,2440.5 873.4,2426.6 878.7,2425.6 C882.6,2424.8 886.8,2430.5 890.8,2433.2 C894.9,2436.0 899.4,2440.4 903.0,2442.3 C905.5,2443.6 907.1,2444.2 910.0,2444.5 C914.6,2445.0 922.0,2442.0 928.2,2442.7 C935.1,2443.5 942.9,2446.3 949.5,2449.7 C956.1,2453.1 962.4,2457.5 967.8,2463.3 C973.8,2469.8 978.0,2479.9 983.0,2487.7 C987.6,2495.0 991.1,2505.9 996.6,2508.9 C1000.6,2511.1 1006.3,2507.4 1010.3,2508.9 C1014.4,2510.4 1018.1,2513.5 1020.9,2518.1 C1025.1,2524.9 1025.9,2537.4 1028.5,2548.4 C1031.5,2561.4 1034.0,2577.4 1037.7,2591.0 C1041.2,2603.7 1044.4,2617.3 1049.8,2627.5 C1054.4,2636.0 1061.0,2648.1 1066.5,2648.8 C1070.6,2649.3 1075.1,2644.4 1078.7,2639.6 C1084.4,2631.9 1088.7,2616.0 1092.4,2603.2 C1096.4,2589.7 1098.2,2575.7 1101.5,2560.6 C1105.2,2543.5 1108.7,2522.9 1113.6,2505.9 C1118.0,2490.7 1122.5,2476.5 1128.8,2463.3 C1134.8,2450.8 1142.2,2438.8 1150.1,2428.4 C1157.5,2418.7 1166.1,2409.2 1174.4,2402.6 C1181.3,2397.1 1188.4,2393.0 1195.7,2390.4 C1202.6,2387.9 1210.3,2386.1 1217.0,2386.7 C1223.4,2387.3 1230.3,2389.2 1235.2,2393.4 C1240.7,2398.1 1244.2,2406.4 1247.4,2414.7 C1251.3,2425.0 1253.0,2438.3 1255.0,2451.2 C1257.2,2465.5 1258.0,2481.6 1259.5,2496.8 C1261.0,2512.0 1262.1,2527.0 1264.1,2542.4 C1266.2,2558.4 1268.0,2576.5 1271.7,2591.0 C1274.9,2603.3 1278.6,2617.2 1283.9,2624.4 C1287.4,2629.1 1291.5,2633.6 1296.0,2633.6 C1301.6,2633.7 1309.8,2626.0 1315.2,2619.6 C1321.7,2611.9 1326.0,2600.4 1330.4,2589.2 C1335.4,2576.4 1338.8,2560.9 1342.6,2546.7 C1346.4,2532.5 1349.6,2518.0 1353.2,2504.1 C1356.7,2490.7 1360.0,2476.8 1363.8,2464.6 C1367.2,2453.7 1370.4,2443.3 1374.5,2434.2 C1378.1,2426.3 1381.4,2416.4 1386.6,2413.0 C1390.5,2410.4 1396.6,2413.7 1400.3,2411.4 C1404.3,2408.9 1406.4,2402.5 1409.4,2397.8 C1412.5,2392.9 1414.3,2386.8 1418.5,2382.6 C1423.1,2378.0 1429.6,2373.8 1436.8,2371.9 C1445.4,2369.6 1458.2,2369.8 1467.2,2371.9 C1475.2,2373.8 1482.4,2378.9 1488.4,2382.6 C1493.2,2385.6 1496.3,2388.4 1500.6,2391.7 C1505.4,2395.4 1510.6,2403.5 1515.8,2403.8 C1520.8,2404.1 1526.1,2398.3 1531.0,2394.7 C1536.3,2390.8 1539.9,2384.1 1546.2,2381.0 C1553.6,2377.4 1564.1,2378.6 1573.6,2376.5 C1584.2,2374.2 1596.1,2367.8 1607.0,2367.4 C1617.3,2367.0 1628.1,2373.1 1637.4,2373.4 C1645.1,2373.6 1650.4,2371.1 1658.7,2370.4 C1670.2,2369.4 1686.6,2369.1 1700.0,2368.9 C1712.8,2368.7 1725.7,2368.4 1737.6,2368.9 C1748.5,2369.4 1758.4,2369.8 1768.7,2371.5 C1779.1,2373.3 1790.2,2376.7 1799.8,2379.5 C1808.1,2382.0 1815.5,2384.7 1823.0,2387.3 C1830.2,2389.8 1837.0,2392.4 1844.0,2395.0" fill="none" stroke="#0000ff" stroke-width="14.0" stroke-linejoin="round" stroke-linecap="butt" shape-rendering="crispEdges"/>
<path d="M133.0,2807.4 C140.1,2811.5 146.8,2814.5 154.3,2819.6 C163.8,2826.0 174.1,2837.7 184.7,2843.9 C194.4,2849.6 205.5,2855.9 215.1,2856.0 C223.6,2856.1 231.7,2851.7 239.4,2846.9 C248.1,2841.5 255.7,2831.9 263.7,2824.1 C271.9,2816.2 279.6,2806.8 288.0,2799.8 C295.8,2793.3 303.7,2788.7 312.4,2783.1 C321.9,2777.0 333.0,2769.6 342.8,2764.9 C351.2,2760.9 358.0,2757.7 367.1,2755.7 C377.9,2753.3 392.0,2753.3 403.6,2752.7 C414.2,2752.1 426.2,2753.1 434.0,2751.8 C439.0,2751.0 441.7,2747.9 446.1,2748.1 C451.6,2748.4 458.0,2752.8 464.3,2755.7 C471.2,2758.9 478.1,2763.4 485.6,2766.4 C493.3,2769.5 503.6,2771.4 509.9,2774.0 C514.1,2775.7 516.2,2777.8 520.0,2779.3 C524.5,2781.1 530.1,2782.3 535.2,2783.8 C540.3,2785.3 545.8,2785.5 550.4,2788.4 C555.6,2791.7 560.1,2797.5 564.1,2803.6 C568.9,2810.8 572.7,2820.3 576.2,2829.4 C579.9,2839.0 582.4,2850.2 585.3,2859.8 C587.9,2868.4 589.9,2879.4 593.0,2884.1 C594.6,2886.6 596.8,2889.1 598.4,2888.7 C601.2,2887.9 603.0,2876.7 605.1,2868.9 C608.0,2858.1 609.3,2839.3 612.7,2829.4 C614.9,2823.0 616.9,2817.1 620.3,2814.2 C622.8,2812.0 626.2,2811.0 629.4,2811.2 C633.2,2811.5 638.0,2813.9 641.6,2817.3 C646.4,2821.9 649.2,2831.5 653.7,2838.5 C658.3,2845.7 663.3,2854.3 668.9,2859.8 C673.6,2864.5 679.1,2868.7 684.1,2870.5 C688.2,2872.0 692.2,2872.6 696.3,2871.4 C701.4,2869.9 706.4,2864.3 711.5,2859.8 C717.5,2854.6 723.9,2846.5 729.7,2841.6 C734.4,2837.6 738.5,2832.3 743.4,2831.9 C748.6,2831.5 754.4,2837.5 760.1,2840.1 C766.0,2842.8 772.6,2845.3 778.4,2847.7 C783.7,2849.8 788.5,2853.5 793.6,2853.7 C798.6,2853.9 804.0,2851.9 808.8,2849.2 C814.2,2846.2 819.0,2840.3 824.0,2835.5 C829.1,2830.6 834.0,2825.2 839.1,2820.3 C844.1,2815.5 849.8,2811.9 854.3,2806.6 C859.0,2800.9 861.9,2791.9 866.5,2786.9 C870.2,2782.8 874.4,2777.7 878.7,2777.8 C883.5,2777.9 888.6,2786.6 893.9,2789.9 C899.0,2793.0 905.4,2795.1 910.0,2797.3 C913.5,2799.0 916.0,2801.6 919.1,2801.8 C922.1,2802.0 924.6,2798.9 928.2,2798.8 C933.2,2798.6 941.1,2801.3 946.5,2803.3 C951.1,2805.0 954.4,2806.4 958.6,2809.4 C964.4,2813.6 970.0,2822.2 976.9,2827.7 C984.1,2833.5 993.1,2842.5 1001.2,2842.9 C1008.8,2843.2 1017.4,2831.0 1024.0,2831.3 C1029.2,2831.5 1033.5,2835.6 1037.7,2839.8 C1043.4,2845.4 1047.3,2857.5 1052.9,2864.1 C1057.6,2869.7 1062.8,2877.1 1068.1,2877.8 C1073.0,2878.5 1078.6,2873.1 1083.3,2870.2 C1087.7,2867.5 1091.5,2865.3 1095.4,2861.1 C1100.7,2855.3 1105.1,2844.6 1110.6,2836.8 C1116.2,2828.9 1122.6,2821.2 1128.8,2814.0 C1134.8,2807.1 1140.3,2800.6 1147.1,2794.2 C1154.4,2787.4 1162.9,2779.7 1171.4,2774.5 C1179.2,2769.7 1187.8,2766.6 1195.7,2763.8 C1202.9,2761.2 1209.8,2758.8 1217.0,2757.8 C1224.0,2756.8 1232.0,2756.1 1238.3,2757.8 C1244.0,2759.4 1249.4,2762.3 1253.5,2766.9 C1258.5,2772.6 1260.7,2782.8 1264.1,2791.2 C1267.7,2800.0 1270.9,2811.1 1274.7,2818.5 C1277.6,2824.0 1280.2,2829.1 1283.9,2832.2 C1287.0,2834.8 1290.4,2837.2 1294.5,2836.8 C1300.7,2836.2 1310.4,2827.8 1317.0,2821.7 C1323.6,2815.6 1328.9,2807.7 1334.0,2800.4 C1338.8,2793.5 1341.7,2785.2 1346.8,2779.1 C1351.7,2773.3 1357.5,2768.5 1363.8,2764.3 C1370.3,2760.0 1377.8,2755.2 1385.1,2753.6 C1392.0,2752.1 1400.1,2756.7 1406.4,2754.5 C1412.9,2752.3 1416.6,2743.0 1423.4,2740.0 C1430.6,2736.8 1440.4,2736.8 1448.9,2736.6 C1457.4,2736.4 1466.7,2735.9 1474.5,2738.7 C1482.3,2741.5 1489.0,2748.8 1495.7,2753.6 C1501.7,2758.0 1507.0,2764.0 1512.8,2766.4 C1517.7,2768.4 1522.6,2769.5 1527.7,2768.5 C1533.9,2767.2 1539.8,2760.4 1546.8,2757.0 C1554.5,2753.2 1563.7,2749.8 1572.3,2747.2 C1580.7,2744.7 1589.0,2743.3 1597.9,2741.7 C1607.4,2740.0 1617.4,2738.4 1627.7,2737.4 C1638.6,2736.3 1649.7,2736.0 1661.7,2735.7 C1675.1,2735.4 1691.9,2734.7 1704.3,2735.7 C1713.9,2736.5 1721.7,2739.6 1729.8,2740.0 C1737.2,2740.4 1744.5,2740.1 1751.1,2738.7 C1757.2,2737.4 1762.4,2732.3 1768.1,2732.3 C1773.8,2732.3 1780.4,2739.9 1785.1,2738.7 C1789.5,2737.5 1791.1,2727.9 1795.7,2726.0 C1800.3,2724.0 1808.0,2729.3 1812.8,2727.2 C1818.1,2724.9 1821.9,2716.7 1825.5,2711.1 C1828.9,2705.7 1830.9,2699.4 1834.0,2694.0 C1837.0,2688.8 1840.5,2684.1 1843.8,2679.1" fill="none" stroke="#ff0000" stroke-width="14.0" stroke-linejoin="round" stroke-linecap="butt" shape-rendering="crispEdges"/>
<path d="M136.1,3034.2 C142.2,3038.3 147.7,3041.0 154.3,3046.4 C163.5,3053.9 174.1,3069.0 184.7,3076.8 C194.0,3083.6 204.4,3091.5 213.6,3092.0 C221.5,3092.4 229.3,3088.2 236.4,3082.9 C245.3,3076.3 252.8,3062.2 260.7,3052.5 C268.0,3043.5 273.9,3035.0 282.0,3026.6 C290.9,3017.3 301.3,3007.1 312.4,2999.3 C323.6,2991.4 336.1,2984.3 348.8,2979.5 C361.4,2974.7 376.0,2972.1 388.4,2970.4 C399.1,2968.9 408.4,2969.1 418.8,2968.9 C429.7,2968.7 441.1,2968.3 452.2,2969.5 C463.4,2970.8 475.3,2972.7 485.6,2976.5 C495.5,2980.2 506.8,2989.3 513.0,2991.7 C516.0,2992.9 517.4,2992.1 520.0,2993.4 C524.3,2995.5 530.4,3000.9 535.2,3005.6 C540.5,3010.8 545.8,3016.8 550.4,3023.8 C555.6,3031.7 560.0,3041.3 564.1,3051.2 C568.7,3062.3 572.7,3075.5 576.2,3087.7 C579.7,3099.8 582.3,3112.8 585.3,3124.1 C587.9,3133.9 589.9,3145.8 593.0,3151.5 C594.7,3154.5 596.7,3157.9 598.4,3157.6 C601.0,3157.1 603.2,3146.9 605.1,3139.3 C608.0,3127.6 609.0,3107.7 611.2,3093.7 C613.1,3081.7 613.7,3067.2 617.3,3060.3 C619.3,3056.4 622.0,3052.9 624.9,3052.7 C628.0,3052.4 631.9,3056.9 635.5,3060.3 C640.4,3064.8 645.8,3072.1 650.7,3078.5 C655.9,3085.2 660.9,3093.9 665.9,3099.8 C670.0,3104.6 674.0,3109.5 678.1,3112.0 C681.1,3113.9 683.8,3115.1 687.2,3115.0 C691.6,3114.9 697.4,3112.1 702.4,3108.9 C708.6,3105.0 714.6,3097.0 720.6,3092.2 C725.8,3088.1 730.5,3083.9 735.8,3081.6 C740.7,3079.5 745.7,3078.4 751.0,3078.5 C756.8,3078.6 763.5,3081.2 769.2,3083.1 C774.6,3084.8 779.9,3088.1 784.4,3089.2 C787.8,3090.0 790.2,3090.5 793.6,3090.1 C798.1,3089.5 804.1,3087.9 808.8,3084.6 C814.5,3080.6 819.1,3072.8 824.0,3066.4 C829.2,3059.7 833.8,3052.4 839.1,3045.1 C844.9,3037.2 850.7,3027.1 857.4,3020.8 C863.1,3015.4 869.8,3008.5 875.6,3008.6 C880.9,3008.7 885.8,3015.4 890.8,3019.3 C896.0,3023.4 900.2,3030.2 906.0,3032.9 C911.7,3035.5 919.2,3032.9 925.2,3035.3 C931.7,3037.9 937.1,3045.1 943.4,3048.9 C949.3,3052.5 956.1,3054.4 961.7,3058.0 C967.2,3061.5 971.2,3066.9 976.9,3070.2 C982.8,3073.6 990.7,3079.1 996.6,3077.8 C1002.9,3076.5 1008.2,3067.6 1013.3,3061.1 C1019.0,3053.7 1023.0,3041.6 1028.5,3035.3 C1032.5,3030.7 1037.0,3025.1 1041.3,3025.2 C1046.1,3025.4 1051.0,3033.1 1055.9,3038.3 C1061.9,3044.7 1067.1,3055.3 1074.1,3061.1 C1080.4,3066.4 1089.0,3072.9 1095.4,3072.6 C1101.0,3072.4 1105.6,3066.9 1110.6,3062.6 C1116.7,3057.4 1122.3,3049.9 1128.8,3042.9 C1136.3,3034.8 1144.3,3025.0 1153.2,3017.0 C1162.4,3008.7 1173.0,3000.4 1183.5,2994.2 C1193.3,2988.4 1203.6,2983.6 1214.0,2980.5 C1223.9,2977.5 1234.2,2977.2 1244.3,2975.4 C1254.4,2973.6 1264.5,2970.8 1274.7,2969.9 C1284.9,2969.0 1294.3,2969.8 1305.6,2969.9 C1319.3,2970.1 1336.0,2971.1 1351.2,2971.1 C1366.4,2971.1 1382.7,2970.6 1396.8,2969.9 C1409.0,2969.3 1419.6,2967.4 1431.0,2967.6 C1442.4,2967.8 1455.1,2968.9 1465.2,2971.1 C1473.7,2973.0 1481.6,2975.4 1488.0,2979.0 C1493.4,2982.1 1497.0,2986.9 1501.6,2990.4 C1506.1,2993.8 1510.2,2998.7 1515.3,2999.6 C1520.7,3000.5 1527.0,2997.5 1533.5,2995.0 C1541.7,2991.9 1553.2,2984.3 1560.0,2981.3 C1564.1,2979.5 1565.5,2978.9 1570.1,2977.6 C1579.1,2975.0 1599.4,2968.6 1611.1,2968.5 C1619.8,2968.4 1626.4,2973.5 1633.9,2973.1 C1641.6,2972.7 1648.1,2966.8 1656.7,2965.8 C1667.3,2964.5 1680.4,2967.8 1693.2,2968.5 C1707.5,2969.3 1725.2,2967.5 1738.8,2970.4 C1750.6,2972.9 1760.2,2976.7 1770.7,2983.1 C1783.1,2990.7 1795.7,3003.2 1807.2,3015.0 C1819.3,3027.4 1830.0,3042.4 1841.4,3056.1" fill="none" stroke="#000000" stroke-width="14.0" stroke-linejoin="round" stroke-linecap="butt" shape-rendering="crispEdges"/>
</g>
<rect x="138" y="38.5" width="1704" height="1370.5" fill="none" stroke="#000" stroke-width="10.5" shape-rendering="crispEdges"/>
<rect x="132.5" y="1915" width="1713.3" height="1383.5" fill="none" stroke="#000" stroke-width="10.3" shape-rendering="crispEdges"/>
<line x1="138.4" y1="1412" x2="138.4" y2="1434" stroke="#000" stroke-width="10" stroke-linecap="round"/>
<line x1="374.9" y1="1412" x2="374.9" y2="1434" stroke="#000" stroke-width="10" stroke-linecap="round"/>
<line x1="611.4" y1="1412" x2="611.4" y2="1434" stroke="#000" stroke-width="10" stroke-linecap="round"/>
<line x1="847.9" y1="1412" x2="847.9" y2="1434" stroke="#000" stroke-width="10" stroke-linecap="round"/>
<line x1="1084.4" y1="1412" x2="1084.4" y2="1434" stroke="#000" stroke-width="10" stroke-linecap="round"/>
<line x1="1320.9" y1="1412" x2="1320.9" y2="1434" stroke="#000" stroke-width="10" stroke-linecap="round"/>
<line x1="1557.4" y1="1412" x2="1557.4" y2="1434" stroke="#000" stroke-width="10" stroke-linecap="round"/>
<line x1="1793.9" y1="1412" x2="1793.9" y2="1434" stroke="#000" stroke-width="10" stroke-linecap="round"/>
<line x1="132.2" y1="3302" x2="132.2" y2="3323" stroke="#000" stroke-width="10" stroke-linecap="round"/>
<line x1="417.6" y1="3302" x2="417.6" y2="3323" stroke="#000" stroke-width="10" stroke-linecap="round"/>
<line x1="702.9" y1="3302" x2="702.9" y2="3323" stroke="#000" stroke-width="10" stroke-linecap="round"/>
<line x1="988.3" y1="3302" x2="988.3" y2="3323" stroke="#000" stroke-width="10" stroke-linecap="round"/>
<line x1="1273.7" y1="3302" x2="1273.7" y2="3323" stroke="#000" stroke-width="10" stroke-linecap="round"/>
<line x1="1559.0" y1="3302" x2="1559.0" y2="3323" stroke="#000" stroke-width="10" stroke-linecap="round"/>
<line x1="1844.4" y1="3302" x2="1844.4" y2="3323" stroke="#000" stroke-width="10" stroke-linecap="round"/>
<text transform="translate(138.4,1496.6) scale(1,1.055)" font-family="'Liberation Sans', Arial, sans-serif" font-weight="bold" font-size="56" text-anchor="middle">4000</text>
<text transform="translate(374.9,1496.6) scale(1,1.055)" font-family="'Liberation Sans', Arial, sans-serif" font-weight="bold" font-size="56" text-anchor="middle">3500</text>
<text transform="translate(611.4,1496.6) scale(1,1.055)" font-family="'Liberation Sans', Arial, sans-serif" font-weight="bold" font-size="56" text-anchor="middle">3000</text>
<text transform="translate(847.9,1496.6) scale(1,1.055)" font-family="'Liberation Sans', Arial, sans-serif" font-weight="bold" font-size="56" text-anchor="middle">2500</text>
<text transform="translate(1084.4,1496.6) scale(1,1.055)" font-family="'Liberation Sans', Arial, sans-serif" font-weight="bold" font-size="56" text-anchor="middle">2000</text>
<text transform="translate(1320.9,1496.6) scale(1,1.055)" font-family="'Liberation Sans', Arial, sans-serif" font-weight="bold" font-size="56" text-anchor="middle">1500</text>
<text transform="translate(1557.4,1496.6) scale(1,1.055)" font-family="'Liberation Sans', Arial, sans-serif" font-weight="bold" font-size="56" text-anchor="middle">1000</text>
<text transform="translate(1793.9,1496.6) scale(1,1.055)" font-family="'Liberation Sans', Arial, sans-serif" font-weight="bold" font-size="56" text-anchor="middle">500</text>
<text transform="translate(132.2,3387.2) scale(1,1.055)" font-family="'Liberation Sans', Arial, sans-serif" font-weight="bold" font-size="56" text-anchor="middle">1000</text>
<text transform="translate(417.6,3387.2) scale(1,1.055)" font-family="'Liberation Sans', Arial, sans-serif" font-weight="bold" font-size="56" text-anchor="middle">900</text>
<text transform="translate(702.9,3387.2) scale(1,1.055)" font-family="'Liberation Sans', Arial, sans-serif" font-weight="bold" font-size="56" text-anchor="middle">800</text>
<text transform="translate(988.3,3387.2) scale(1,1.055)" font-family="'Liberation Sans', Arial, sans-serif" font-weight="bold" font-size="56" text-anchor="middle">700</text>
<text transform="translate(1273.7,3387.2) scale(1,1.055)" font-family="'Liberation Sans', Arial, sans-serif" font-weight="bold" font-size="56" text-anchor="middle">600</text>
<text transform="translate(1559.0,3387.2) scale(1,1.055)" font-family="'Liberation Sans', Arial, sans-serif" font-weight="bold" font-size="56" text-anchor="middle">500</text>
<text transform="translate(1844.4,3387.2) scale(1,1.055)" font-family="'Liberation Sans', Arial, sans-serif" font-weight="bold" font-size="56" text-anchor="middle">400</text>
<text x="994" y="1615.5" font-family="'Liberation Sans', Arial, sans-serif" font-weight="bold" font-size="65" letter-spacing="1.4" text-anchor="middle">Wave length(cm<tspan font-size="40" dy="-33">-1</tspan><tspan dy="33">)</tspan></text>
<text x="992.5" y="3507" font-family="'Liberation Sans', Arial, sans-serif" font-weight="bold" font-size="65" letter-spacing="1.75" text-anchor="middle">Wavenumber(cm<tspan font-size="40" dy="-33">-1</tspan><tspan dy="33">)</tspan></text>
<text transform="translate(59,770) rotate(-90)" font-family="'Liberation Sans', Arial, sans-serif" font-weight="bold" font-size="68" text-anchor="middle">% Trasmittance(a.u)</text>
<text transform="translate(53,2652) rotate(-90)" font-family="'Liberation Sans', Arial, sans-serif" font-weight="bold" font-size="68" text-anchor="middle">% Trasmittance(a.u)</text>
<text transform="translate(160.0,190.7) scale(1,1.035)" font-family="'Liberation Sans', Arial, sans-serif" font-size="68" text-anchor="start">180<tspan font-size="40" dy="-31.5">o</tspan><tspan dy="31.5">C</tspan></text>
<text transform="translate(153.0,478.8) scale(1,1.035)" font-family="'Liberation Sans', Arial, sans-serif" font-size="68" text-anchor="start">150<tspan font-size="40" dy="-31.5">o</tspan><tspan dy="31.5">C</tspan></text>
<text transform="translate(157.0,786.0) scale(1,1.035)" font-family="'Liberation Sans', Arial, sans-serif" font-size="68" text-anchor="start">125<tspan font-size="40" dy="-31.5">o</tspan><tspan dy="31.5">C</tspan></text>
<text transform="translate(152.0,1016.0) scale(1,1.035)" font-family="'Liberation Sans', Arial, sans-serif" font-size="68" text-anchor="start">100<tspan font-size="40" dy="-31.5">o</tspan><tspan dy="31.5">C</tspan></text>
<text transform="translate(1805.0,2036.0) scale(1,1.035)" font-family="'Liberation Sans', Arial, sans-serif" font-size="68" text-anchor="end">180<tspan font-size="40" dy="-31.5">o</tspan><tspan dy="31.5">C</tspan></text>
<text transform="translate(1801.0,2343.0) scale(1,1.035)" font-family="'Liberation Sans', Arial, sans-serif" font-size="68" text-anchor="end">150<tspan font-size="40" dy="-31.5">o</tspan><tspan dy="31.5">C</tspan></text>
<text transform="translate(1805.5,2703.0) scale(1,1.035)" font-family="'Liberation Sans', Arial, sans-serif" font-size="68" text-anchor="end">125<tspan font-size="40" dy="-31.5">o</tspan><tspan dy="31.5">C</tspan></text>
<text transform="translate(1821.0,2932.0) scale(1,1.035)" font-family="'Liberation Sans', Arial, sans-serif" font-size="68" text-anchor="end">100<tspan font-size="40" dy="-31.5">o</tspan><tspan dy="31.5">C</tspan></text>
<text transform="translate(389.0,1210.0) rotate(-90)" font-family="'Liberation Serif', 'Times New Roman', serif" font-weight="bold" font-size="50" text-anchor="middle">3506</text>
<text transform="translate(449.0,1214.0) rotate(-90)" font-family="'Liberation Serif', 'Times New Roman', serif" font-weight="bold" font-size="50" text-anchor="middle">3380</text>
<text transform="translate(1315.0,1323.0) rotate(-90)" font-family="'Liberation Serif', 'Times New Roman', serif" font-weight="bold" font-size="50" text-anchor="middle">1560</text>
<text transform="translate(1409.0,1340.0) rotate(-90)" font-family="'Liberation Serif', 'Times New Roman', serif" font-weight="bold" font-size="50" text-anchor="middle">1351</text>
<text transform="translate(1717.0,1203.0) rotate(-90)" font-family="'Liberation Serif', 'Times New Roman', serif" font-weight="bold" font-size="50" text-anchor="middle">674</text>
<text transform="translate(1748.0,1183.0) rotate(-90)" font-family="'Liberation Serif', 'Times New Roman', serif" font-weight="bold" font-size="50" text-anchor="middle">591</text>
<text transform="translate(616.9,3243.4) rotate(-90) scale(0.950,1)" font-family="'Liberation Sans', Arial, sans-serif" font-weight="normal" font-size="57" text-anchor="middle" stroke="#000" stroke-width="2.4">837</text>
<text transform="translate(718.3,3231.2) rotate(-90) scale(0.950,1)" font-family="'Liberation Sans', Arial, sans-serif" font-weight="normal" font-size="57" text-anchor="middle" stroke="#000" stroke-width="2.4">806</text>
<text transform="translate(828.8,3215.3) rotate(-90) scale(0.950,1)" font-family="'Liberation Sans', Arial, sans-serif" font-weight="normal" font-size="57" text-anchor="middle" stroke="#000" stroke-width="2.4">765</text>
<text transform="translate(1016.7,3195.6) rotate(-90) scale(0.950,1)" font-family="'Liberation Sans', Arial, sans-serif" font-weight="normal" font-size="57" text-anchor="middle" stroke="#000" stroke-width="2.4">695</text>
<text transform="translate(1121.6,3196.4) rotate(-90) scale(0.950,1)" font-family="'Liberation Sans', Arial, sans-serif" font-weight="normal" font-size="57" text-anchor="middle" stroke="#000" stroke-width="2.4">662</text>
<text transform="translate(1324.9,2920.9) rotate(-90) scale(0.950,1)" font-family="'Liberation Sans', Arial, sans-serif" font-weight="normal" font-size="57" text-anchor="middle" stroke="#000" stroke-width="2.4">593</text>
<text transform="translate(1546.5,3126.1) rotate(-90) scale(0.950,1)" font-family="'Liberation Sans', Arial, sans-serif" font-weight="normal" font-size="57" text-anchor="middle" stroke="#000" stroke-width="2.4">514</text>
<text x="936.5" y="1806" font-family="'Liberation Serif', 'Times New Roman', serif" font-size="79" text-anchor="middle">(<tspan font-weight="bold">a</tspan>)</text>
<text x="937" y="3708.7" font-family="'Liberation Serif', 'Times New Roman', serif" font-size="79" text-anchor="middle">(<tspan font-weight="bold">b</tspan>)</text>
</svg></body></html>
